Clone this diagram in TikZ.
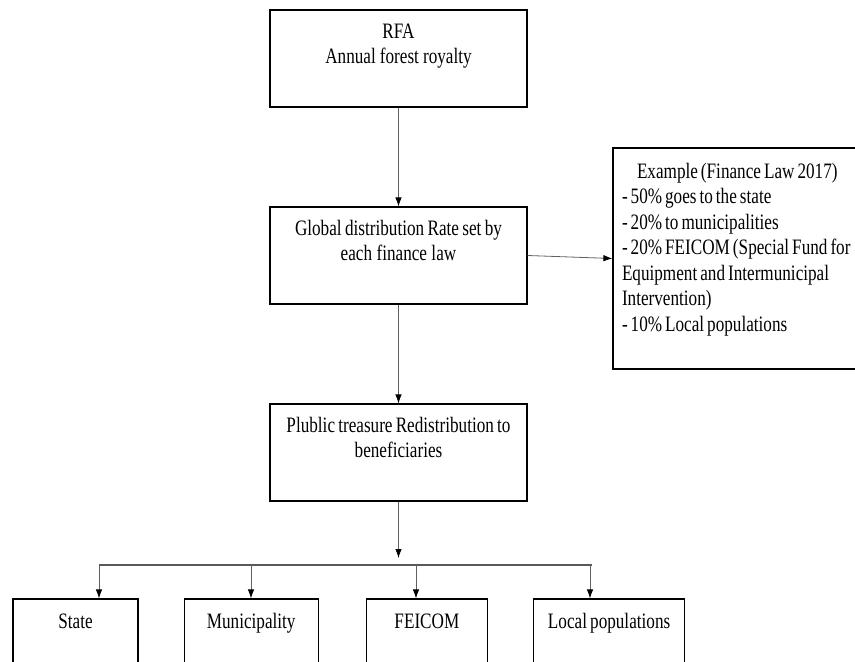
\documentclass[tikz,border=0pt]{standalone}
\usepackage{fontspec}
\setmainfont{Liberation Serif}[FakeStretch=0.78]
\newcommand{\boxfont}{\fontsize{22pt}{25pt}\selectfont}
\newcommand{\tightspace}{\spaceskip=3pt plus 1pt minus 0.5pt\xspaceskip=3pt\relax}
\usetikzlibrary{positioning}
\usetikzlibrary{shapes,arrows,arrows.meta}
\tikzset{
    objRectangle/.style={rectangle, text width=240pt, inner xsep=8.5pt, inner ysep=14pt, text height=14pt, text depth=55pt, align=center, draw=black, line width=1.2pt, font=\boxfont, execute at begin node=\tightspace},
    objRectangleExample/.style={rectangle, text width=260pt, inner xsep=9pt, inner ysep=13pt, text height=17pt, text depth=178pt, align=left, draw=black, line width=1.2pt, font=\fontsize{22pt}{25.5pt}\selectfont, execute at begin node=\tightspace},
    objRectangleBottom/.style={rectangle, inner xsep=8pt, inner ysep=15pt, text height=14pt, text depth=55pt, align=center, draw=black, line width=1.2pt, font=\boxfont, execute at begin node=\tightspace},
    arrow/.style={draw=gray!75!black, line width=0.8pt, -{Latex[length=9pt, width=6.5pt, color=black]}},
    bar/.style={draw=gray!70!black, line width=1.6pt}
}

\begin{document}
\begin{tikzpicture}[x=1pt, y=-1pt, node distance=197pt]
    \useasboundingbox (0,0) rectangle (855,662);
    \clip (0,0) rectangle (855,662);

    \node (rfa) [objRectangle] at (398.5,58.5) {RFA\\Annual forest royalty};
    \node (rate) [objRectangle, below of=rfa] {Global distribution Rate set by\\each finance law};
    \node (treasure) [objRectangle, below of=rate] {Plublic treasure Redistribution to\\beneficiaries};
    \node (example) [objRectangleExample] at (752,258.5) {\hspace*{15pt}Example (Finance Law 2017)\\- 50\% goes to the state\\- 20\% to municipalities\\- 20\% FEICOM (Special Fund for\\Equipment and Intermunicipal\\Intervention)\\- 10\% Local populations};

    \node (state) [objRectangleBottom, text width=109pt] at (75.5,648.5) {State};
    \node (municipality) [objRectangleBottom, text width=118pt, right=45pt of state] {Municipality};
    \node (feicom) [objRectangleBottom, text width=105pt, right=47pt of municipality] {FEICOM};
    \node (local) [objRectangleBottom, text width=135pt, right=45pt of feicom] {Local populations};

    \coordinate (split) at (398.5,558);
    \coordinate (barLeft) at (99,565);
    \coordinate (barRight) at (592,565);
    \coordinate (toMunicipality) at (251,565);
    \coordinate (toFeicom) at (416,565);
    \coordinate (toLocal) at (590,565);

    \draw [arrow] (rfa) -- (rate);
    \draw [arrow] (rate) -- (treasure);
    \draw [arrow] (rate.east) -- (example.west);
    \draw [arrow] (treasure) -- (split);
    \draw [bar] (barLeft) -- (barRight);
    \draw [arrow] (barLeft) -- (barLeft |- state.north);
    \draw [arrow] (toMunicipality) -- (toMunicipality |- municipality.north);
    \draw [arrow] (toFeicom) -- (toFeicom |- feicom.north);
    \draw [arrow] (toLocal) -- (toLocal |- local.north);

\end{tikzpicture}
\end{document}
